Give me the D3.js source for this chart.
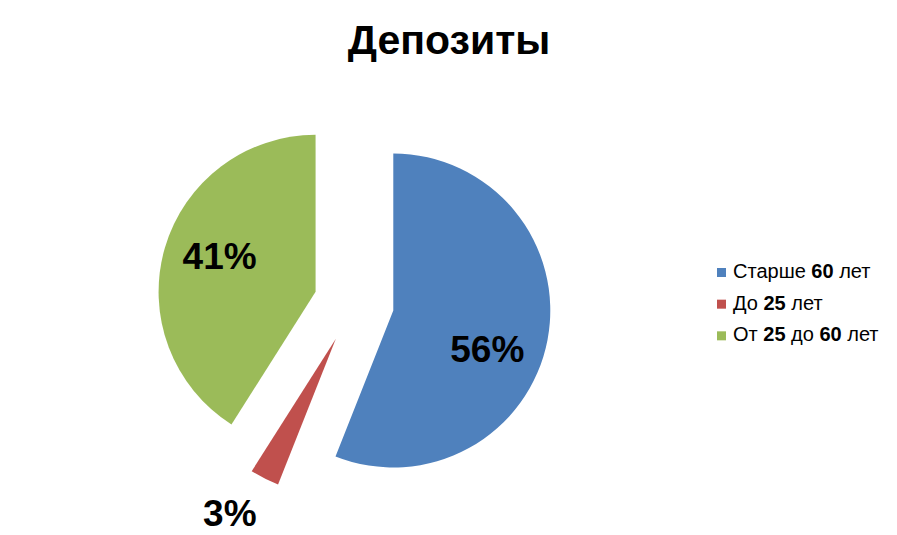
<!DOCTYPE html>
<html><head><meta charset="utf-8">
<script src="https://cdn.jsdelivr.net/npm/d3@7"></script>
<style>body{margin:0;background:#fff}text{font-family:"Liberation Sans",Arial,sans-serif}</style>
</head><body>
<svg id="chart" width="897" height="535"></svg>
<script>
var categories = ["Старше 60 лет", "До 25 лет", "От 25 до 60 лет"];
var values = [56, 3, 41];
var colours = ["#4f81bd", "#c0504d", "#9bbb59"];
// legend pieces: [text, bold]
var legendParts = [
  [["Старше ", false], ["60", true], [" лет", false]],
  [["До ", false], ["25", true], [" лет", false]],
  [["От ", false], ["25", true], [" до ", false], ["60", true], [" лет", false]]
];

var svg = d3.select("#chart");
svg.append("rect").attr("width", 897).attr("height", 535).attr("fill", "#fff");

svg.append("text").attr("x", 449).attr("y", 54).attr("text-anchor", "middle")
  .attr("font-size", 41).attr("font-weight", "bold").text("Депозиты");

var cx = 354, cy = 303, r = 157, explode = 40;
// label offsets from each slice's apex (layout, not data)
var labelOffset = [[94, 39], [-106, 174], [-96, -36]];
var pie = d3.pie().sort(null).value(function (d) { return d; });
var arc = d3.arc().innerRadius(0).outerRadius(r);
var arcs = pie(values);

var g = svg.append("g").attr("transform", "translate(" + cx + "," + cy + ")");
arcs.forEach(function (a, i) {
  var mid = (a.startAngle + a.endAngle) / 2;
  var dx = Math.sin(mid) * explode, dy = -Math.cos(mid) * explode;
  var sg = g.append("g").attr("transform", "translate(" + dx + "," + dy + ")");
  sg.append("path").attr("d", arc(a)).attr("fill", colours[i]);
  sg.append("text").attr("x", labelOffset[i][0]).attr("y", labelOffset[i][1] + 13)
    .attr("text-anchor", "middle")
    .attr("font-size", 37).attr("font-weight", "bold").attr("fill", "#000")
    .text(values[i] + "%");
});

var legend = svg.append("g").attr("transform", "translate(717,268)");
var ly = d3.scaleBand().domain(categories).range([0, 95]);
categories.forEach(function (c, i) {
  var row = legend.append("g").attr("transform", "translate(0," + ly(c) + ")");
  row.append("rect").attr("x", 0).attr("y", 0).attr("width", 9).attr("height", 9).attr("fill", colours[i]);
  var t = row.append("text").attr("x", 16).attr("y", 10).attr("font-size", 20).attr("fill", "#000");
  legendParts[i].forEach(function (p) {
    t.append("tspan").attr("font-weight", p[1] ? "bold" : "normal").text(p[0]);
  });
});
</script>
</body></html>
